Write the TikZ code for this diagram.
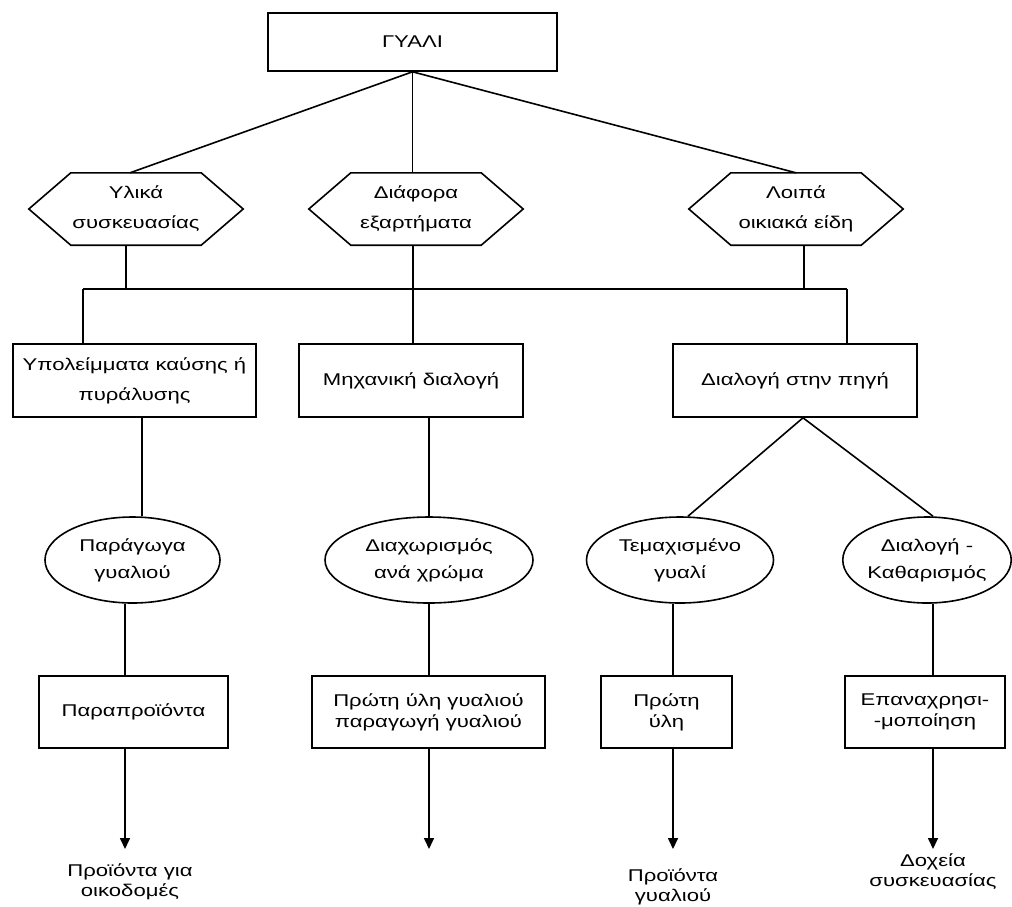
\documentclass[tikz,border=0pt]{standalone}
\usepackage{fontspec}
\setmainfont{Liberation Sans}[FakeStretch=1.3]
\usetikzlibrary{arrows.meta,shapes.geometric,calc}
\tikzset{
  lw/.style={line width=1.6pt},
  txt/.style={font=\fontsize{17}{20}\selectfont, align=center, inner sep=0pt},
  boxnode/.style={txt, draw, lw, minimum width=#1, minimum height=73pt},
  ellnode/.style={txt, draw, lw, ellipse, minimum height=86pt, minimum width=#1},
  hexnode/.style={txt, minimum width=214pt, minimum height=72pt},
  link/.style={lw},
  arrowlink/.style={lw, -{Triangle[width=10pt,length=11pt]}},
}
\newcommand\hexdraw[1]{\draw[lw] (#1.west) -- ($(#1.north west)+(42,0)$) -- ($(#1.north east)+(-42,0)$) -- (#1.east) -- ($(#1.south east)+(-42,0)$) -- ($(#1.south west)+(42,0)$) -- cycle;}
\begin{document}
\begin{tikzpicture}[x=1pt,y=-1pt]
\fill[white] (0,0) rectangle (1012,906);
\useasboundingbox (0,0) rectangle (1012,906);

% top
\node[boxnode=289pt, minimum height=58pt] (top) at (412.5,42) {ΓΥΑΛΙ};

% hexagons
\node[hexnode] (h1) at (136,209) {Υλικά\\[10pt]συσκευασίας};
\node[hexnode] (h2) at (416,209) {Διάφορα\\[10pt]εξαρτήματα};
\node[hexnode] (h3) at (796,209) {Λοιπά\\[10pt]οικιακά είδη};
\hexdraw{h1}
\hexdraw{h2}
\hexdraw{h3}

% first row boxes
\node[boxnode=243pt] (b1) at (134.5,380.5) {Υπολείμματα καύσης ή\\[10pt]πυράλυσης};
\node[boxnode=224pt] (b2) at (411,380.5) {Μηχανική διαλογή};
\node[boxnode=244pt] (b3) at (795,380.5) {Διαλογή στην πηγή};

% ellipses
\node[ellnode=175pt] (e1) at (132.5,560) {Παράγωγα\\[7pt]γυαλιού};
\node[ellnode=208pt] (e2) at (429,560) {Διαχωρισμός\\[7pt]ανά χρώμα};
\node[ellnode=187pt] (e3) at (680,560) {Τεμαχισμένο\\[7pt]γυαλί};
\node[ellnode=166pt] (e4) at (927,560) {Διαλογή -\\[7pt]Καθαρισμός};

% second row boxes
\node[boxnode=189pt, minimum height=72pt] (b4) at (133.5,712) {Παραπροϊόντα};
\node[boxnode=233pt, minimum height=72pt] (b5) at (428.5,712) {Πρώτη ύλη γυαλιού\\[1pt]παραγωγή γυαλιού};
\node[boxnode=131pt, minimum height=72pt] (b6) at (666.5,712) {Πρώτη\\[1pt]ύλη};
\node[boxnode=160pt, minimum height=72pt] (b7) at (925,712) {Επαναχρησι-\\[1pt]-μοποίηση};

% bottom texts
\node[txt] (t1) at (130,882) {Προϊόντα για\\οικοδομές};
\node[txt] (t3) at (673,887) {Προϊόντα\\γυαλιού};
\node[txt] (t4) at (933,872) {Δοχεία\\συσκευασίας};

% arrow ends
\coordinate (a1) at (125,849);
\coordinate (a2) at (429,849);
\coordinate (a3) at (673,849);
\coordinate (a4) at (933,849);

% bar
\coordinate (barL) at (83,289);
\coordinate (barR) at (847,289);

% top connections
\draw[link] (top.south) -- ($(h1.north)+(-6,0)$);
\draw[link] (top.south) -- (top.south |- h2.north);
\draw[link] (top.south) -- (h3.north);

% hex to bar
\draw[link] ($(h1.south)+(-10,0)$) coordinate (p1) -- (p1 |- barL);
\draw[link] ($(h2.south)+(-3,0)$) coordinate (p2) -- (p2 |- barL);
\draw[link] ($(h3.south)+(8,0)$) coordinate (p3) -- (p3 |- barL);
\draw[link] (barL) -- (barR);

% bar to boxes
\draw[link] (barL) -- (barL |- b1.north);
\draw[link] (p2 |- barL) -- (p2 |- b2.north);
\draw[link] (barR) -- (barR |- b3.north);

% boxes to ellipses
\draw[link] ($(b1.south)+(7.5,0)$) coordinate (q1) -- (q1 |- e1.north);
\draw[link] (e2.north |- b2.south) -- (e2.north);
\draw[link] ($(b3.south)+(8,0)$) -- ($(e3.north)+(8,0)$);
\draw[link] ($(b3.south)+(8,0)$) -- ($(e4.north)+(6,0)$);

% ellipses to boxes
\draw[link] (a1 |- e1.south) -- (a1 |- b4.north);
\draw[link] (e2.south) -- (e2.south |- b5.north);
\draw[link] (a3 |- e3.south) -- (a3 |- b6.north);
\draw[link] (a4 |- e4.south) -- (a4 |- b7.north);

% arrows
\draw[arrowlink] (a1 |- b4.south) -- (a1);
\draw[arrowlink] (a2 |- b5.south) -- (a2);
\draw[arrowlink] (a3 |- b6.south) -- (a3);
\draw[arrowlink] (a4 |- b7.south) -- (a4);
\end{tikzpicture}
\end{document}
